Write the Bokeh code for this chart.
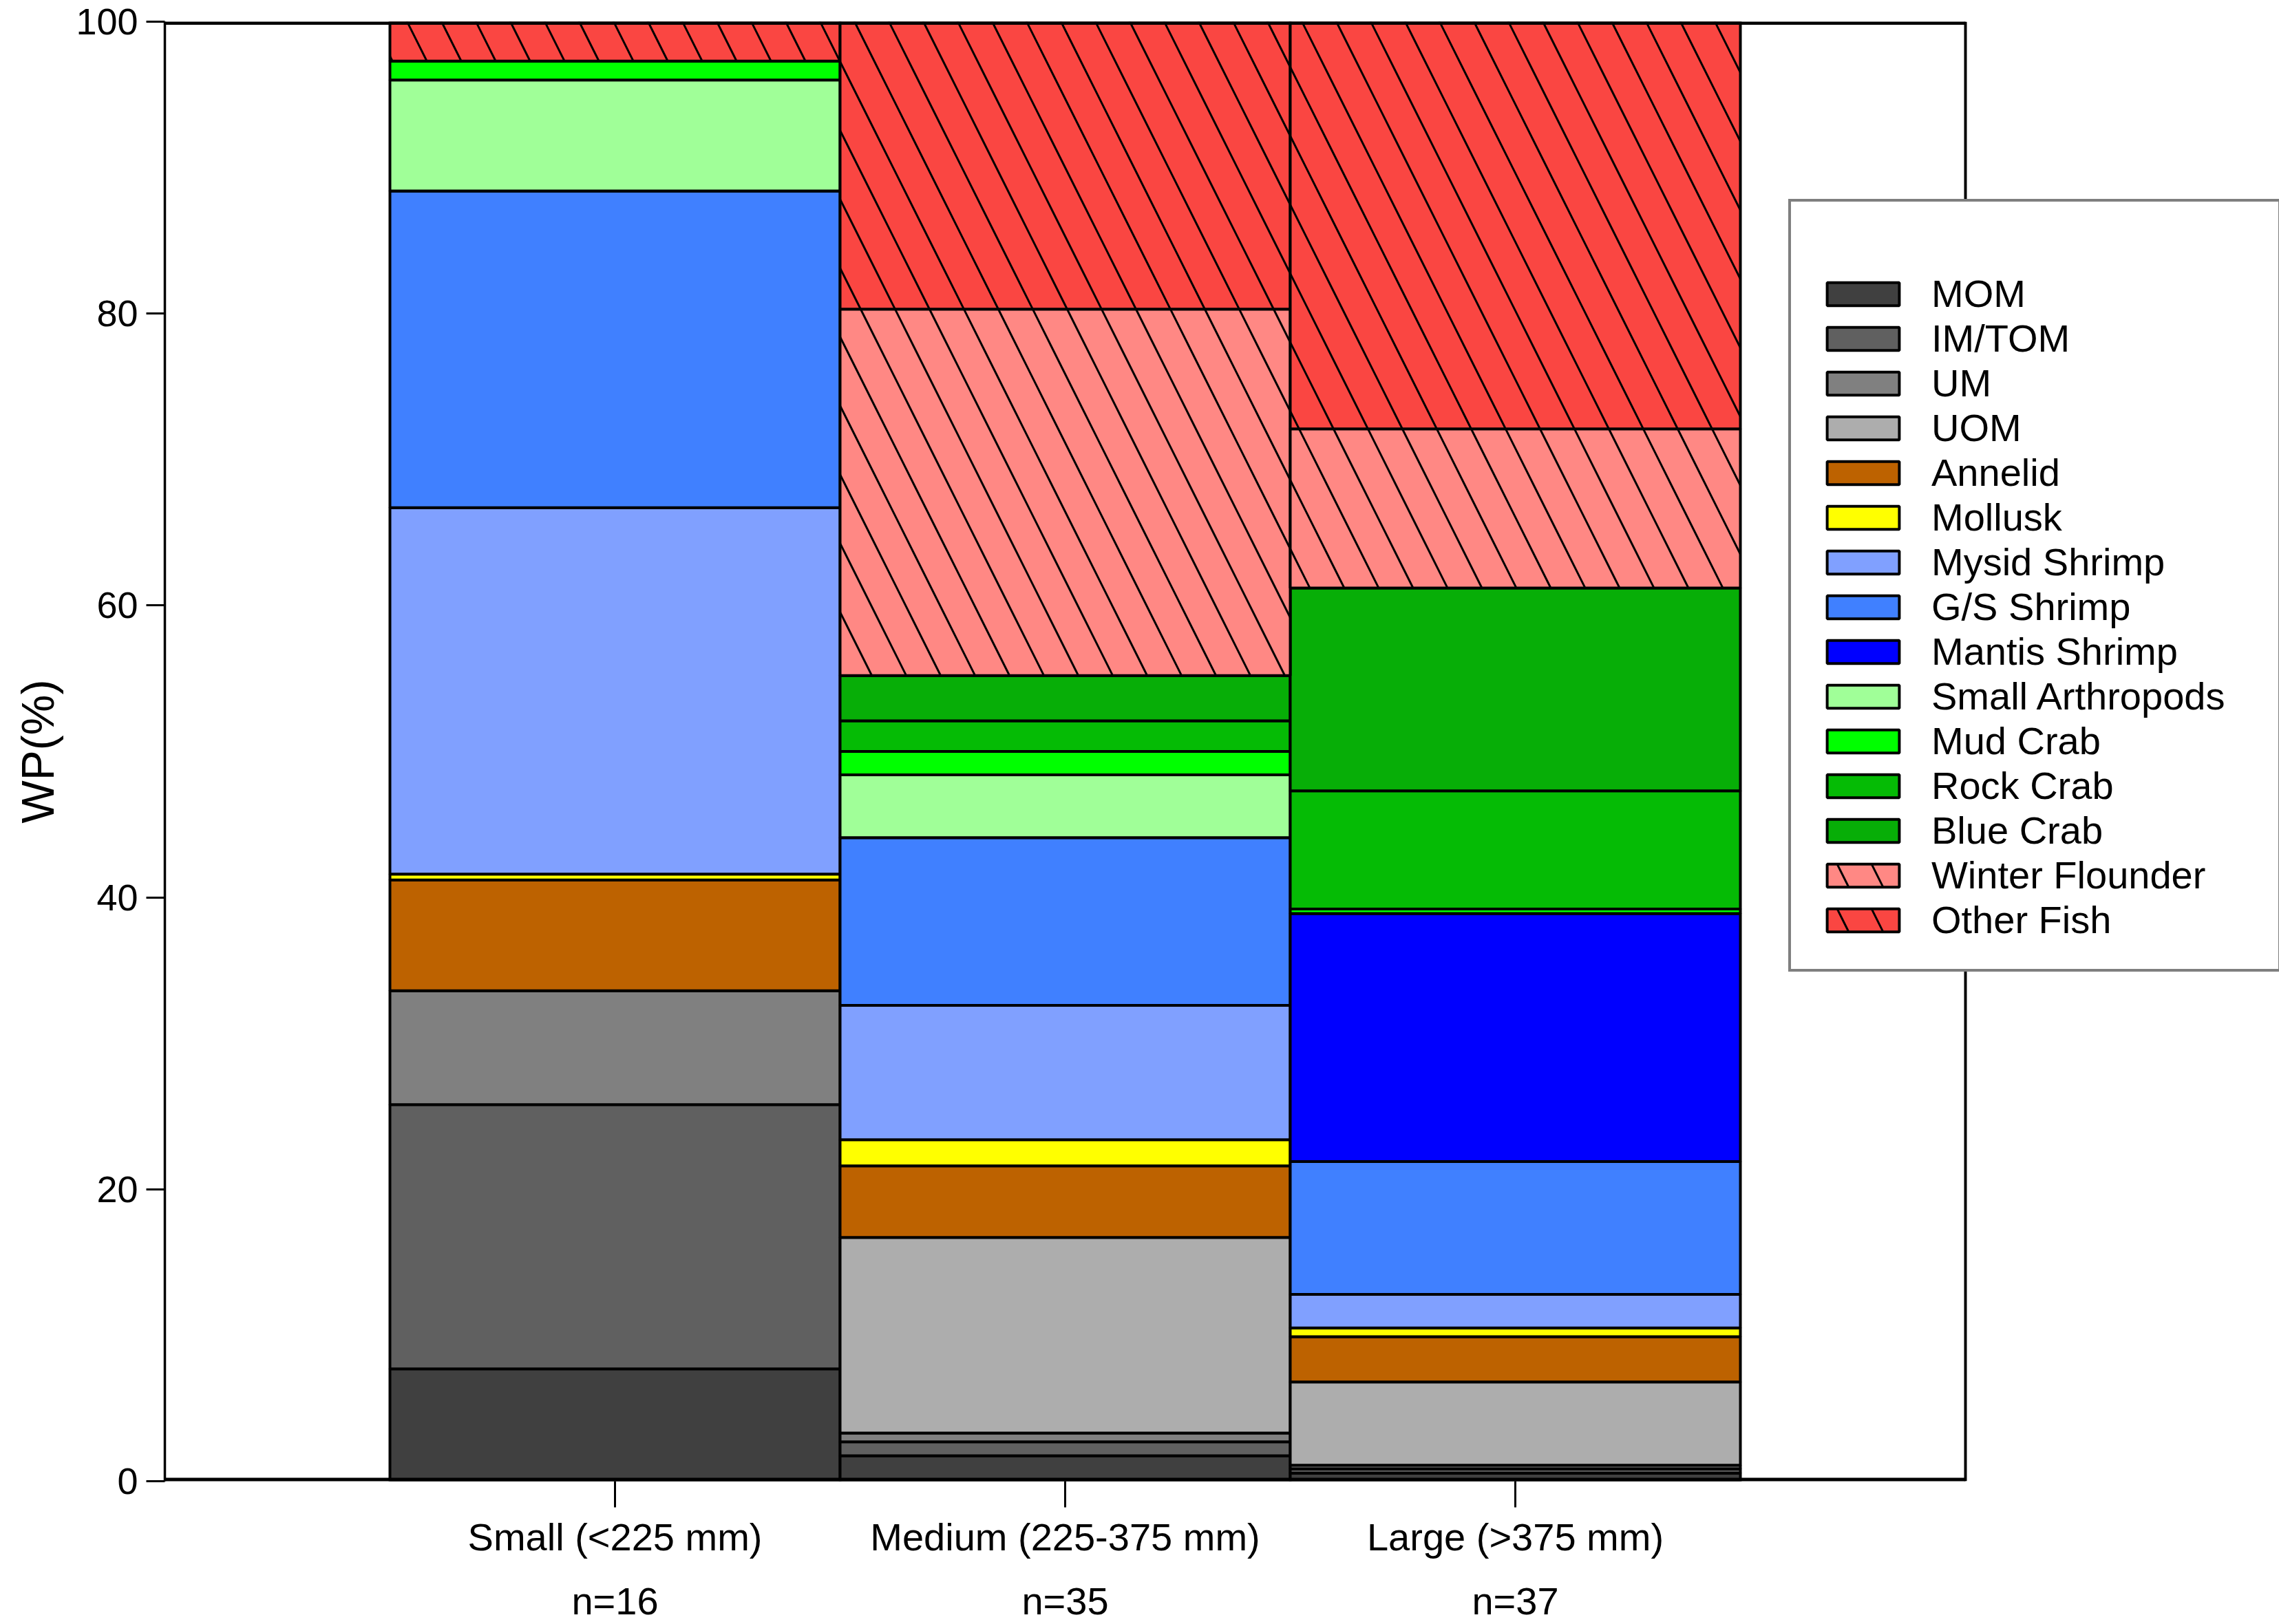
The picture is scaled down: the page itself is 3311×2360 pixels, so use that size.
from bokeh.plotting import figure
from bokeh.models import FixedTicker, LinearAxis, Range1d, ColumnDataSource
from bokeh.embed import file_html
from bokeh.resources import INLINE

groups = ["Small (<225 mm)", "Medium (225-375 mm)", "Large (>375 mm)"]
sample_sizes = ["n=16", "n=35", "n=37"]

categories = ["MOM", "IM/TOM", "UM", "UOM", "Annelid", "Mollusk", "Mysid Shrimp",
              "G/S Shrimp", "Mantis Shrimp", "Small Arthropods", "Mud Crab",
              "Rock Crab", "Blue Crab", "Winter Flounder", "Other Fish"]

# WP (%) per size class: Small, Medium, Large
mom          = [7.7, 1.75, 0.55]
im_tom       = [18.1, 0.95, 0.3]
um           = [7.8, 0.6, 0.25]
uom          = [0.0, 13.4, 5.7]
annelid      = [7.6, 4.9, 3.1]
mollusk      = [0.4, 1.8, 0.6]
mysid        = [25.1, 9.2, 2.3]
gs_shrimp    = [21.7, 11.5, 9.1]
mantis       = [0.0, 0.0, 17.0]
small_arth   = [7.6, 4.3, 0.0]
mud_crab     = [1.3, 1.6, 0.3]
rock_crab    = [0.0, 2.1, 8.1]
blue_crab    = [0.0, 3.1, 13.9]
winter_fl    = [0.0, 25.1, 10.9]
other_fish   = [2.7, 19.7, 27.9]

series = [mom, im_tom, um, uom, annelid, mollusk, mysid, gs_shrimp, mantis,
          small_arth, mud_crab, rock_crab, blue_crab, winter_fl, other_fish]

colors = ["#404040", "#606060", "#808080", "#ADADAD", "#BD6200", "#FFFF00",
          "#80A0FF", "#4080FF", "#0000FF", "#A0FF98", "#00FF00", "#05BB05",
          "#07AE07", "#FF8884", "#FA4642"]
patterns = [" "] * 13 + ["\\", "\\"]

xs = list(range(1, len(groups) + 1))
keys = ["c%d" % i for i in range(len(categories))]
data = {"x": xs}
for k, s in zip(keys, series):
    data[k] = s
src = ColumnDataSource(data)

FONT = "Liberation Sans"

W, H = 3311, 2360
LEFT, TOP, BOTTOM = 239, 31, 2152
AX_RIGHT = 2855           # where the drawn frame ends
x_lo, x_hi = 0, len(groups) + 1
y_lo, y_hi = 0, 100
x_end = x_hi * (W - LEFT) / (AX_RIGHT - LEFT)

p = figure(width=W, height=H, output_backend="svg", toolbar_location=None,
           x_range=Range1d(x_lo, x_end), y_range=Range1d(y_lo, y_hi),
           min_border_left=LEFT, min_border_right=0, min_border_top=TOP,
           min_border_bottom=H - BOTTOM)

p.vbar_stack(keys, x="x", width=1.0, source=src, fill_color=colors,
             line_color="black", line_width=4, hatch_pattern=patterns,
             hatch_color="black", hatch_weight=3, hatch_scale=100,
             legend_label=categories)

# frame lines (top, right) and x-axis line, limited to the plotting box
p.segment(x0=[x_lo], y0=[y_hi], x1=[x_hi], y1=[y_hi], line_color="black", line_width=9)
p.segment(x0=[x_hi], y0=[y_lo], x1=[x_hi], y1=[y_hi], line_color="black", line_width=4)
p.segment(x0=[x_lo], y0=[y_lo], x1=[x_hi], y1=[y_lo], line_color="black", line_width=10)

p.grid.visible = False
p.outline_line_color = None
p.background_fill_color = "white"
p.border_fill_color = "white"

# x axis
xa = p.xaxis[0]
xa.ticker = FixedTicker(ticks=xs)
xa.major_label_overrides = {x: g for x, g in zip(xs, groups)}
xa.axis_line_color = None
xa.major_tick_line_width = 3
xa.major_tick_out = 38
xa.major_tick_in = 0
xa.minor_tick_line_color = None
xa.major_label_standoff = 11
xa.major_label_text_font = FONT
xa.major_label_text_font_size = "56px"
xa.major_label_text_color = "black"

ax2 = LinearAxis(ticker=FixedTicker(ticks=xs),
                 major_label_overrides={x: n for x, n in zip(xs, sample_sizes)})
ax2.axis_line_color = None
ax2.major_tick_line_color = None
ax2.minor_tick_line_color = None
ax2.major_tick_out = 0
ax2.major_tick_in = 0
ax2.major_label_standoff = 27
ax2.major_label_text_font = FONT
ax2.major_label_text_font_size = "56px"
ax2.major_label_text_color = "black"
p.add_layout(ax2, "below")

# y axis
ya = p.yaxis[0]
ya.ticker = FixedTicker(ticks=[0, 20, 40, 60, 80, 100])
ya.axis_line_width = 3.5
ya.major_tick_line_width = 3
ya.major_tick_out = 27
ya.major_tick_in = 0
ya.minor_tick_line_color = None
ya.major_label_standoff = 12
ya.major_label_text_font = FONT
ya.major_label_text_font_size = "54px"
ya.major_label_text_color = "black"
ya.axis_label = "WP(%)"
ya.axis_label_text_font = FONT
ya.axis_label_text_font_size = "66px"
ya.axis_label_text_font_style = "normal"
ya.axis_label_text_color = "black"
ya.axis_label_standoff = 15

# legend
lg = p.legend[0]
lg.location = (2359, 740)
lg.title = " "
lg.title_text_font_size = "45px"
lg.title_standoff = 10
lg.label_text_font = FONT
lg.label_text_font_size = "56px"
lg.label_text_color = "black"
lg.glyph_width = 131
lg.glyph_height = 42
lg.label_height = 42
lg.label_width = 465
lg.label_standoff = 34
lg.spacing = 0
lg.padding = 39
lg.margin = 0
lg.border_line_color = "black"
lg.border_line_width = 4
lg.background_fill_color = "white"
lg.background_fill_alpha = 1.0

open("out.html", "w").write(file_html(p, INLINE))
